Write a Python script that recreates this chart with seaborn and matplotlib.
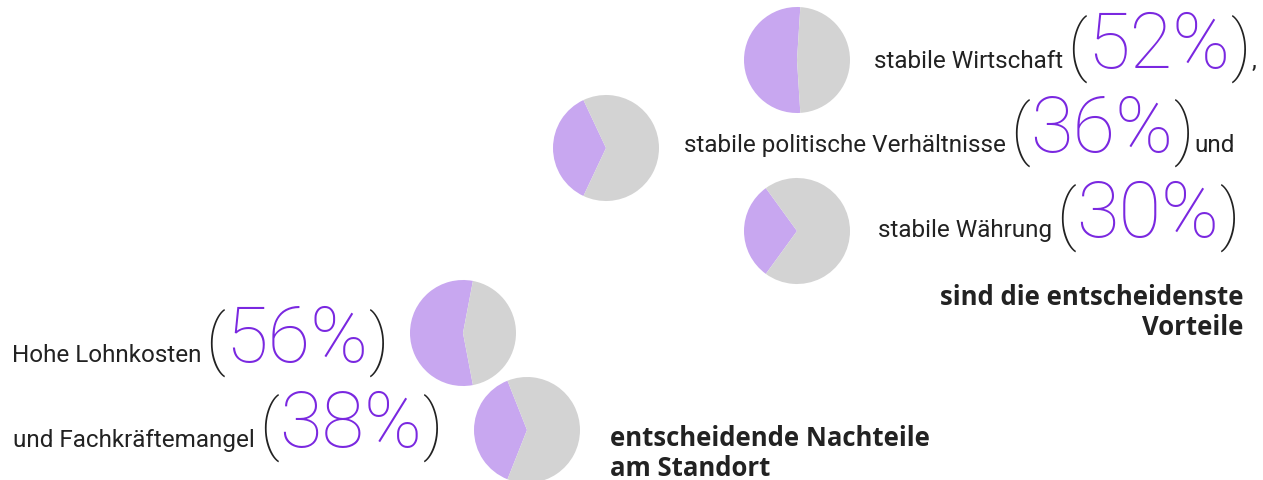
import matplotlib
matplotlib.use("Agg")
import matplotlib.pyplot as plt
import seaborn as sns

# Werte aus der Grafik
labels = ["stabile Wirtschaft", "stabile politische Verhältnisse", "stabile Währung",
          "Hohe Lohnkosten", "und Fachkräftemangel"]
shares = [52, 36, 30, 56, 38]
suffixes = [",", "und", "", "", ""]
vorteile_text = "sind die entscheidenste\nVorteile"
nachteile_text = "entscheidende Nachteile\nam Standort"

# Layout in Pixeln (x, y von oben)
pie_centers = [(797, 60), (606, 148), (797, 231), (463, 333), (527, 430)]
num_anchor = [(1087, 68), (1030, 152), (1076, 237), (225, 362), (279, 447)]
pie_radius = 53

purple_pie = "#c8a7f0"
grey_pie = "#d3d3d3"
purple_txt = "#7a28e0"
dark = "#222222"

sns.set_theme(style="white")
plt.rcParams["font.family"] = ["Roboto", "DejaVu Sans"]

fig = plt.figure(figsize=(12.63, 4.8), dpi=100)
ax = fig.add_axes([0, 0, 1, 1])

for (cx, cy), val in zip(pie_centers, shares):
    ang = val / 100 * 360
    ax.pie([val, 100 - val], colors=[purple_pie, grey_pie], center=(cx, cy),
           radius=pie_radius, startangle=180 - ang / 2, counterclock=True,
           frame=True, wedgeprops=dict(linewidth=0))

ax.set_xlim(0, 1263)
ax.set_ylim(480, 0)
ax.set_aspect("equal")
ax.axis("off")

big = 56
paren = 48
small = 17.5
for lab, val, suf, (x, y) in zip(labels, shares, suffixes, num_anchor):
    num = ax.text(x, y, f"{val}%", ha="left", va="baseline", fontsize=big,
                  color=purple_txt, fontweight="light")
    op = ax.annotate("(", xy=(0, y), xycoords=(num, "data"),
                     ha="right", va="baseline",
                     fontsize=paren, color=dark, fontweight="light")
    cl = ax.annotate(")", xy=(1, y), xycoords=(num, "data"),
                     ha="left", va="baseline",
                     fontsize=paren, color=dark, fontweight="light")
    ax.annotate(lab, xy=(0, y), xycoords=(op, "data"), xytext=(-3, 0),
                textcoords="offset points", ha="right", va="baseline",
                fontsize=small, color=dark)
    if suf:
        ax.annotate(suf, xy=(1, y), xycoords=(cl, "data"), xytext=(1, 0),
                    textcoords="offset points", ha="left", va="baseline",
                    fontsize=small, color=dark)

bold_font = ["Open Sans", "DejaVu Sans"]
ax.text(1243, 335, vorteile_text, ha="right", va="baseline", fontsize=18.5,
        fontweight="bold", family=bold_font, color=dark, linespacing=1.15)
ax.text(610, 476, nachteile_text, ha="left", va="baseline", fontsize=18.5,
        fontweight="bold", family=bold_font, color=dark, linespacing=1.15)

fig.savefig("out.png", dpi=100)
